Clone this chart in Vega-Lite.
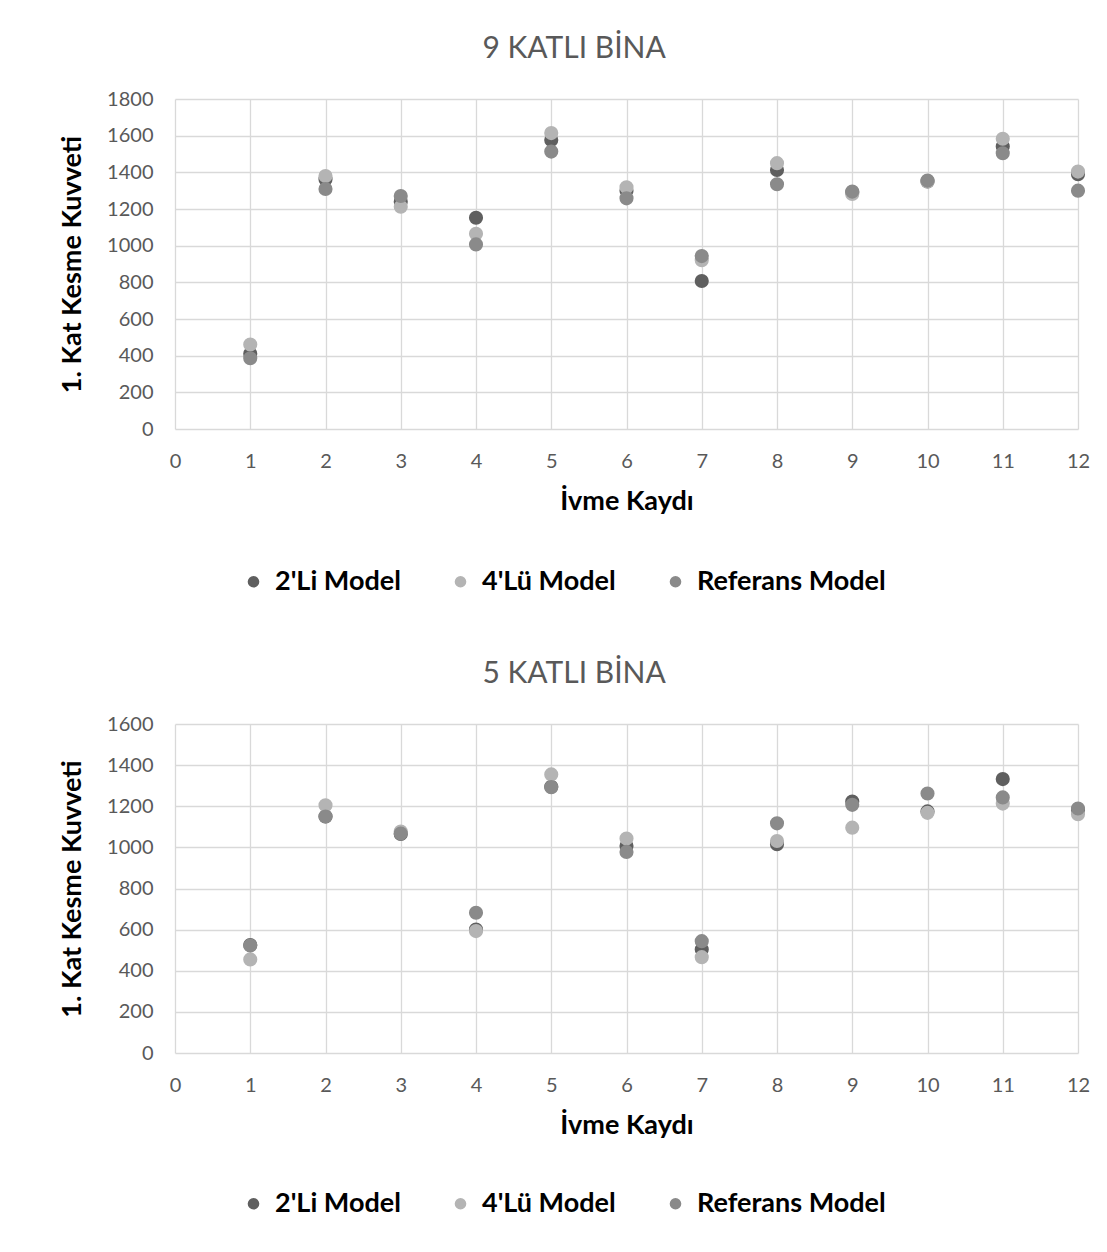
{
  "$schema": "https://vega.github.io/schema/vega-lite/v6.json",
  "background": "white",
  "padding": {"left": 58, "top": 34, "right": 0, "bottom": 0},
  "spacing": 64,
  "resolve": {"legend": {"color": "independent"}},
  "config": {
    "font": "Lato",
    "view": {"stroke": null},
    "axis": {
      "labelFont": "Lato", "labelFontSize": 20, "labelColor": "#595959",
      "titleFont": "Lato", "titleFontSize": 27, "titleFontWeight": "bold", "titleColor": "#000000",
      "grid": true, "gridColor": "#d9d9d9", "gridWidth": 1.3,
      "ticks": false, "domain": false, "format": "d", "labelFlush": false
    },
    "legend": {
      "labelFont": "Lato", "labelFontSize": 27, "labelFontWeight": "bold", "labelColor": "#000000",
      "symbolType": "circle", "symbolSize": 135, "symbolStrokeWidth": 0,
      "columnPadding": 46, "labelOffset": 8, "labelLimit": 400
    },
    "title": {"font": "Lato", "fontSize": 30, "fontWeight": "normal", "color": "#595959"}
  },
  "datasets": {
    "rows": [
      {"bina": "9", "kayit": 1, "model": "2'Li Model", "kuvvet": 410},
      {"bina": "9", "kayit": 2, "model": "2'Li Model", "kuvvet": 1362},
      {"bina": "9", "kayit": 3, "model": "2'Li Model", "kuvvet": 1240},
      {"bina": "9", "kayit": 4, "model": "2'Li Model", "kuvvet": 1152},
      {"bina": "9", "kayit": 5, "model": "2'Li Model", "kuvvet": 1577},
      {"bina": "9", "kayit": 6, "model": "2'Li Model", "kuvvet": 1300},
      {"bina": "9", "kayit": 7, "model": "2'Li Model", "kuvvet": 807},
      {"bina": "9", "kayit": 8, "model": "2'Li Model", "kuvvet": 1413},
      {"bina": "9", "kayit": 9, "model": "2'Li Model", "kuvvet": 1290},
      {"bina": "9", "kayit": 10, "model": "2'Li Model", "kuvvet": 1350},
      {"bina": "9", "kayit": 11, "model": "2'Li Model", "kuvvet": 1541},
      {"bina": "9", "kayit": 12, "model": "2'Li Model", "kuvvet": 1390},
      {"bina": "9", "kayit": 1, "model": "4'Lü Model", "kuvvet": 461},
      {"bina": "9", "kayit": 2, "model": "4'Lü Model", "kuvvet": 1380},
      {"bina": "9", "kayit": 3, "model": "4'Lü Model", "kuvvet": 1212},
      {"bina": "9", "kayit": 4, "model": "4'Lü Model", "kuvvet": 1065},
      {"bina": "9", "kayit": 5, "model": "4'Lü Model", "kuvvet": 1614},
      {"bina": "9", "kayit": 6, "model": "4'Lü Model", "kuvvet": 1318},
      {"bina": "9", "kayit": 7, "model": "4'Lü Model", "kuvvet": 921},
      {"bina": "9", "kayit": 8, "model": "4'Lü Model", "kuvvet": 1450},
      {"bina": "9", "kayit": 9, "model": "4'Lü Model", "kuvvet": 1282},
      {"bina": "9", "kayit": 10, "model": "4'Lü Model", "kuvvet": 1350},
      {"bina": "9", "kayit": 11, "model": "4'Lü Model", "kuvvet": 1583},
      {"bina": "9", "kayit": 12, "model": "4'Lü Model", "kuvvet": 1404},
      {"bina": "9", "kayit": 1, "model": "Referans Model", "kuvvet": 386},
      {"bina": "9", "kayit": 2, "model": "Referans Model", "kuvvet": 1309},
      {"bina": "9", "kayit": 3, "model": "Referans Model", "kuvvet": 1271},
      {"bina": "9", "kayit": 4, "model": "Referans Model", "kuvvet": 1007},
      {"bina": "9", "kayit": 5, "model": "Referans Model", "kuvvet": 1513},
      {"bina": "9", "kayit": 6, "model": "Referans Model", "kuvvet": 1258},
      {"bina": "9", "kayit": 7, "model": "Referans Model", "kuvvet": 943},
      {"bina": "9", "kayit": 8, "model": "Referans Model", "kuvvet": 1335},
      {"bina": "9", "kayit": 9, "model": "Referans Model", "kuvvet": 1295},
      {"bina": "9", "kayit": 10, "model": "Referans Model", "kuvvet": 1355},
      {"bina": "9", "kayit": 11, "model": "Referans Model", "kuvvet": 1504},
      {"bina": "9", "kayit": 12, "model": "Referans Model", "kuvvet": 1300},
      {"bina": "5", "kayit": 1, "model": "2'Li Model", "kuvvet": 525},
      {"bina": "5", "kayit": 2, "model": "2'Li Model", "kuvvet": 1150},
      {"bina": "5", "kayit": 3, "model": "2'Li Model", "kuvvet": 1065},
      {"bina": "5", "kayit": 4, "model": "2'Li Model", "kuvvet": 600},
      {"bina": "5", "kayit": 5, "model": "2'Li Model", "kuvvet": 1295},
      {"bina": "5", "kayit": 6, "model": "2'Li Model", "kuvvet": 1007},
      {"bina": "5", "kayit": 7, "model": "2'Li Model", "kuvvet": 503},
      {"bina": "5", "kayit": 8, "model": "2'Li Model", "kuvvet": 1015},
      {"bina": "5", "kayit": 9, "model": "2'Li Model", "kuvvet": 1223},
      {"bina": "5", "kayit": 10, "model": "2'Li Model", "kuvvet": 1175},
      {"bina": "5", "kayit": 11, "model": "2'Li Model", "kuvvet": 1332},
      {"bina": "5", "kayit": 12, "model": "2'Li Model", "kuvvet": 1180},
      {"bina": "5", "kayit": 1, "model": "4'Lü Model", "kuvvet": 455},
      {"bina": "5", "kayit": 2, "model": "4'Lü Model", "kuvvet": 1205},
      {"bina": "5", "kayit": 3, "model": "4'Lü Model", "kuvvet": 1077},
      {"bina": "5", "kayit": 4, "model": "4'Lü Model", "kuvvet": 593},
      {"bina": "5", "kayit": 5, "model": "4'Lü Model", "kuvvet": 1355},
      {"bina": "5", "kayit": 6, "model": "4'Lü Model", "kuvvet": 1043},
      {"bina": "5", "kayit": 7, "model": "4'Lü Model", "kuvvet": 466},
      {"bina": "5", "kayit": 8, "model": "4'Lü Model", "kuvvet": 1031},
      {"bina": "5", "kayit": 9, "model": "4'Lü Model", "kuvvet": 1096},
      {"bina": "5", "kayit": 10, "model": "4'Lü Model", "kuvvet": 1168},
      {"bina": "5", "kayit": 11, "model": "4'Lü Model", "kuvvet": 1213},
      {"bina": "5", "kayit": 12, "model": "4'Lü Model", "kuvvet": 1161},
      {"bina": "5", "kayit": 1, "model": "Referans Model", "kuvvet": 523},
      {"bina": "5", "kayit": 2, "model": "Referans Model", "kuvvet": 1150},
      {"bina": "5", "kayit": 3, "model": "Referans Model", "kuvvet": 1067},
      {"bina": "5", "kayit": 4, "model": "Referans Model", "kuvvet": 682},
      {"bina": "5", "kayit": 5, "model": "Referans Model", "kuvvet": 1293},
      {"bina": "5", "kayit": 6, "model": "Referans Model", "kuvvet": 978},
      {"bina": "5", "kayit": 7, "model": "Referans Model", "kuvvet": 544},
      {"bina": "5", "kayit": 8, "model": "Referans Model", "kuvvet": 1117},
      {"bina": "5", "kayit": 9, "model": "Referans Model", "kuvvet": 1207},
      {"bina": "5", "kayit": 10, "model": "Referans Model", "kuvvet": 1262},
      {"bina": "5", "kayit": 11, "model": "Referans Model", "kuvvet": 1243},
      {"bina": "5", "kayit": 12, "model": "Referans Model", "kuvvet": 1189}
    ]
  },
  "vconcat": [
    {
      "data": {"name": "rows"},
      "transform": [{"filter": "datum.bina == '9'"}],
      "title": {"text": "9 KATLI BİNA", "anchor": "middle", "frame": "bounds", "offset": 25},
      "width": 903,
      "height": 330,
      "mark": {"type": "circle", "opacity": 1, "size": 200},
      "encoding": {
        "x": {"field": "kayit", "type": "quantitative", "scale": {"domain": [0, 12], "nice": false},
          "axis": {"title": "İvme Kaydı", "values": [0,1,2,3,4,5,6,7,8,9,10,11,12], "labelPadding": 22, "titlePadding": 17}},
        "y": {"field": "kuvvet", "type": "quantitative", "scale": {"domain": [0, 1800], "nice": false},
          "axis": {"title": "1. Kat Kesme Kuvveti", "values": [0,200,400,600,800,1000,1200,1400,1600,1800], "labelPadding": 22, "titlePadding": 20}},
        "color": {"field": "model", "type": "nominal",
          "scale": {"domain": ["2'Li Model", "4'Lü Model", "Referans Model"], "range": ["#5f5f5f", "#b4b4b4", "#8a8a8a"]},
          "legend": {"title": null, "orient": "none", "direction": "horizontal", "legendX": 65, "legendY": 469}}
      }
    },
    {
      "data": {"name": "rows"},
      "transform": [{"filter": "datum.bina == '5'"}],
      "title": {"text": "5 KATLI BİNA", "anchor": "middle", "frame": "bounds", "offset": 25},
      "width": 903,
      "height": 329,
      "mark": {"type": "circle", "opacity": 1, "size": 200},
      "encoding": {
        "x": {"field": "kayit", "type": "quantitative", "scale": {"domain": [0, 12], "nice": false},
          "axis": {"title": "İvme Kaydı", "values": [0,1,2,3,4,5,6,7,8,9,10,11,12], "labelPadding": 22, "titlePadding": 17}},
        "y": {"field": "kuvvet", "type": "quantitative", "scale": {"domain": [0, 1600], "nice": false},
          "axis": {"title": "1. Kat Kesme Kuvveti", "values": [0,200,400,600,800,1000,1200,1400,1600], "labelPadding": 22, "titlePadding": 20}},
        "color": {"field": "model", "type": "nominal",
          "scale": {"domain": ["2'Li Model", "4'Lü Model", "Referans Model"], "range": ["#5f5f5f", "#b4b4b4", "#8a8a8a"]},
          "legend": {"title": null, "orient": "none", "direction": "horizontal", "legendX": 65, "legendY": 466}}
      }
    }
  ]
}
